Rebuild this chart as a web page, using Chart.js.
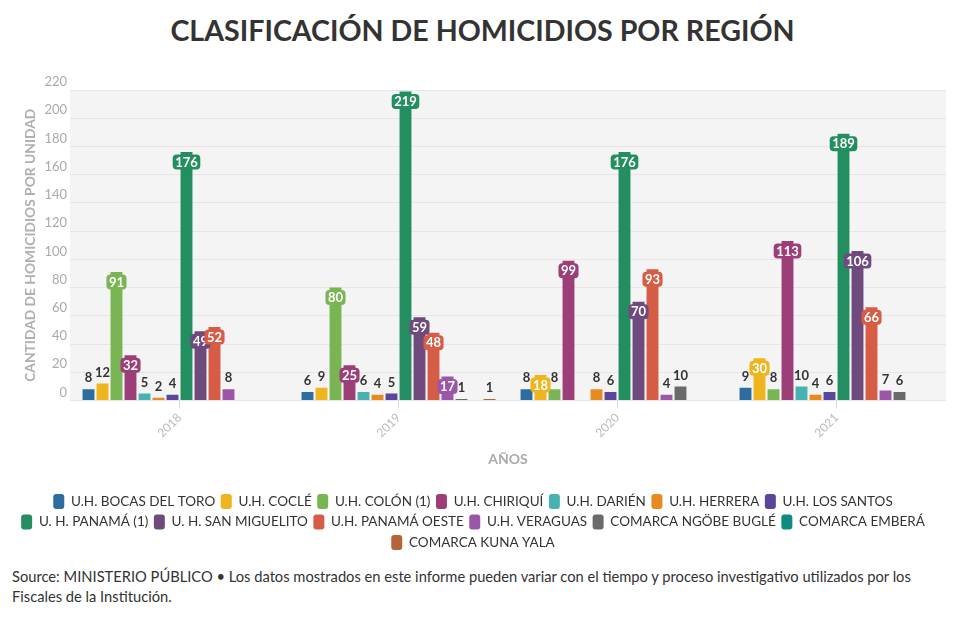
<!DOCTYPE html>
<html>
<head>
<meta charset="utf-8">
<script src="https://cdn.jsdelivr.net/npm/chart.js@4"></script>
<style>
    body { margin: 0; background: #fff; font-family: Lato, "Noto Sans", sans-serif; }
    .wrap { position: relative; width: 965px; height: 625px; }
    .title { position: absolute; top: 10px; left: 0; width: 965px; text-align: center; font-size: 28.6px; font-weight: 700; color: #333; line-height: 40px; }
    .chart-box { position: absolute; top: 60px; left: 0; width: 965px; height: 500px; }
    .source { position: absolute; top: 566px; left: 12px; width: 928px; font-size: 14.7px; line-height: 20px; color: #333; }
</style>
</head>
<body>
<div class="wrap">
    <div class="title">CLASIFICACIÓN DE HOMICIDIOS POR REGIÓN</div>
    <div class="chart-box"><canvas id="homicidiosChart"></canvas></div>
    <div class="source">Source: MINISTERIO PÚBLICO • Los datos mostrados en este informe pueden variar con el tiempo y proceso investigativo utilizados por los Fiscales de la Institución.</div>
</div>
<script>
// Data
const years = ['2018', '2019', '2020', '2021'];
const regions = [
    'U.H. BOCAS DEL TORO', 'U.H. COCLÉ', 'U.H. COLÓN (1)', 'U.H. CHIRIQUÍ', 'U.H. DARIÉN',
    'U.H. HERRERA', 'U.H. LOS SANTOS', 'U. H. PANAMÁ (1)', 'U. H. SAN MIGUELITO',
    'U.H. PANAMÁ OESTE', 'U.H. VERAGUAS', 'COMARCA NGÖBE BUGLÉ', 'COMARCA EMBERÁ', 'COMARCA KUNA YALA'
];
const bocasDelToro = [8, 6, 8, 9];
const cocle = [12, 9, 18, 30];
const colon = [91, 80, 8, 8];
const chiriqui = [32, 25, 99, 113];
const darien = [5, 6, null, 10];
const herrera = [2, 4, 8, 4];
const losSantos = [4, 5, 6, 6];
const panama = [176, 219, 176, 189];
const sanMiguelito = [49, 59, 70, 106];
const panamaOeste = [52, 48, 93, 66];
const veraguas = [8, 17, 4, 7];
const ngobeBugle = [null, 1, 10, 6];
const embera = [null, null, null, null];
const kunaYala = [null, 1, null, null];
const yTicks = [0, 20, 40, 60, 80, 100, 120, 140, 160, 180, 200, 220];

const seriesValues = [bocasDelToro, cocle, colon, chiriqui, darien, herrera, losSantos,
    panama, sanMiguelito, panamaOeste, veraguas, ngobeBugle, embera, kunaYala];
const colors = ['#2b6d9f', '#f0b41e', '#7ab553', '#9c3f78', '#47b2b0', '#e68a21', '#5b4699',
    '#238e5f', '#6e4a7d', '#d65c46', '#9c56a7', '#6a6a6a', '#0f8b80', '#b5643a'];

const FONT = 'Lato, "Noto Sans", sans-serif';

// Grey plot background
const plotBackground = {
    id: 'plotBackground',
    beforeDraw(chart) {
        const { ctx, chartArea: a } = chart;
        ctx.save();
        ctx.fillStyle = '#f4f4f4';
        ctx.fillRect(a.left, a.top, a.right - a.left, a.bottom - a.top);
        ctx.restore();
    }
};

// Value labels: inside a coloured box for tall bars, above the bar for short ones
const valueLabels = {
    id: 'valueLabels',
    afterDatasetsDraw(chart) {
        const ctx = chart.ctx;
        ctx.save();
        ctx.textAlign = 'center';
        ctx.textBaseline = 'middle';
        ctx.font = 'bold 13px ' + FONT;
        chart.data.datasets.forEach((ds, i) => {
            const meta = chart.getDatasetMeta(i);
            meta.data.forEach((bar, j) => {
                const v = ds.data[j];
                if (v === null || v === undefined) return;
                const text = String(v);
                const h = bar.base - bar.y;
                if (h >= 20) {
                    const w = ctx.measureText(text).width + 5;
                    const cy = bar.y + 10;
                    ctx.fillStyle = ds.backgroundColor;
                    ctx.beginPath();
                    ctx.roundRect(bar.x - w / 2, cy - 7.5, w, 15, 4);
                    ctx.fill();
                    ctx.fillStyle = '#fff';
                    ctx.fillText(text, bar.x, cy + 0.5);
                } else {
                    ctx.fillStyle = '#333';
                    ctx.fillText(text, bar.x, bar.y - 11);
                }
            });
        });
        ctx.restore();
    }
};

const ctx = document.getElementById('homicidiosChart');
new Chart(ctx, {
    type: 'bar',
    data: {
        labels: years,
        datasets: regions.map((name, i) => ({
            label: name,
            data: seriesValues[i],
            backgroundColor: colors[i],
            borderWidth: 0,
            categoryPercentage: 0.895,
            barPercentage: 0.85
        }))
    },
    options: {
        responsive: true,
        maintainAspectRatio: false,
        animation: false,
        layout: {
            padding: { top: 30, right: 19, bottom: 0, left: 0 }
        },
        plugins: {
            legend: {
                position: 'bottom',
                labels: {
                    color: '#333',
                    font: { family: FONT, size: 13.5 },
                    boxWidth: 11,
                    boxHeight: 15,
                    useBorderRadius: true,
                    borderRadius: 3,
                    padding: 5.5
                }
            },
            tooltip: { enabled: false }
        },
        scales: {
            y: {
                min: 0,
                max: 220,
                afterBuildTicks(scale) {
                    scale.ticks = yTicks.map(v => ({ value: v }));
                },
                afterFit(scale) {
                    scale.width = 70;
                },
                ticks: {
                    color: '#aaa',
                    font: { family: FONT, size: 13 },
                    padding: 3,
                    labelOffset: -8
                },
                grid: {
                    color: '#e6e6e6',
                    drawTicks: false
                },
                border: { display: false },
                title: {
                    display: true,
                    text: 'CANTIDAD DE HOMICIDIOS POR UNIDAD',
                    color: '#b0b0b0',
                    font: { family: FONT, size: 13.8, weight: 'bold' },
                    padding: { top: 22, bottom: 0 }
                }
            },
            x: {
                afterFit(scale) {
                    scale.height = 88;
                },
                ticks: {
                    color: '#bbb',
                    font: { family: FONT, size: 12 },
                    maxRotation: 45,
                    minRotation: 45,
                    padding: 2
                },
                grid: {
                    offset: false,
                    drawOnChartArea: false,
                    drawTicks: true,
                    tickLength: 8,
                    color: '#d6d6d6'
                },
                border: { display: false },
                title: {
                    display: true,
                    text: 'AÑOS',
                    color: '#aaa',
                    font: { family: FONT, size: 14, weight: 'bold' },
                    padding: { top: 0, bottom: 21 }
                }
            }
        }
    },
    plugins: [plotBackground, valueLabels]
});
</script>
</body>
</html>
